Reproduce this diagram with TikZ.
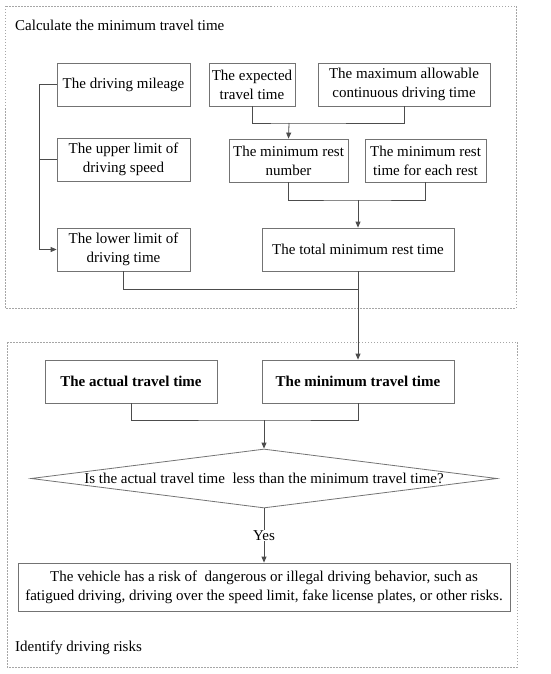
\documentclass[tikz,border=0pt]{standalone}
\usepackage{fontspec}
\setmainfont{Liberation Serif}
\usetikzlibrary{arrows.meta,shapes.geometric}

\tikzset{
	box/.style={draw=black!55, line width=0.8pt, minimum height=43pt, inner sep=2pt, align=center, font=\fontsize{15}{19}\selectfont},
	decide/.style={diamond, aspect=7.9, draw=black!55, line width=0.8pt, minimum width=466pt, minimum height=59pt, inner sep=0pt, font=\fontsize{15}{19}\selectfont},
	line/.style={draw=black!70, line width=0.8pt},
	arr/.style={line, -{Triangle[length=6pt,width=5pt]}},
	frame/.style={draw=black!35, line width=0.5pt, dash pattern=on 1.5pt off 1.5pt},
	label/.style={anchor=west, inner sep=0pt, font=\fontsize{15}{19}\selectfont}
}

\begin{document}
\begin{tikzpicture}[x=1pt,y=-1pt]
	\useasboundingbox (0,0) rectangle (550,674);
	% frames
	\draw[frame] (5,6) rectangle (516,308);
	\draw[frame] (7,342) rectangle (517,667);
	\node[label] (calc) at (15,25) {Calculate the minimum travel time};
	\node[label] (ident) at (15,648) {Identify driving risks};

	% first part
	\node[box, minimum width=133pt] (mileage) at (123.5,84.5) {The driving mileage};
	\node[box, minimum width=86pt] (expected) at (252,84.5) {The expected\\travel time};
	\node[box, minimum width=172pt] (maxallow) at (404,84.5) {The maximum allowable\\continuous driving time};
	\node[box, minimum width=133pt] (upper) at (123.5,159.5) {The upper limit of\\driving speed};
	\node[box, minimum width=119pt] (restnum) at (288.5,160.5) {The minimum rest\\number};
	\node[box, minimum width=121pt] (resteach) at (425.5,160.5) {The minimum rest\\time for each rest};
	\node[box, minimum width=133pt] (lower) at (123.5,249.5) {The lower limit of\\driving time};
	\node[box, minimum width=192pt] (total) at (358,249.5) {The total minimum rest time};

	% second part
	\node[box, minimum width=172pt, font=\fontsize{15}{19}\selectfont\bfseries] (actual) at (131,381.5) {The actual travel time};
	\node[box, minimum width=192pt, font=\fontsize{15}{19}\selectfont\bfseries] (mintime) at (358,381.5) {The minimum travel time};
	\node[decide] (dec) at (264,478.5) {Is the actual travel time\ \ less than the minimum travel time?};
	\node[box, minimum width=492pt, minimum height=48pt] (result) at (264,587) {The vehicle has a risk of\ \ dangerous or illegal driving behavior, such as\\fatigued driving, driving over the speed limit, fake license plates, or other risks.};

	\coordinate (j1) at (289,123);
	\coordinate (j2) at (358,200);
	\coordinate (j3) at (358,289);
	\coordinate (j4) at (264,420);

	% connectors
	\draw[arr] (mileage.west) -- ++(-17,0) |- (lower.west);
	\draw[line] (upper.west) -- ++(-17,0);
	\draw[line] (expected.south) |- (j1) -| (maxallow.south);
	\draw[arr] (j1) -- (restnum.north);
	\draw[line] (restnum.south) |- (j2) -| (resteach.south);
	\draw[arr] (j2) -- (total.north);
	\draw[line] (lower.south) |- (j3);
	\draw[arr] (total.south) -- (mintime.north);
	\draw[line] (actual.south) |- (j4) -| (mintime.south);
	\draw[arr] (j4) -- (dec.north);
	\draw[arr] (dec.south) -- node[fill=white, inner sep=1pt, font=\fontsize{15}{19}\selectfont] (yes) {Yes} (result.north);
\end{tikzpicture}
\end{document}
